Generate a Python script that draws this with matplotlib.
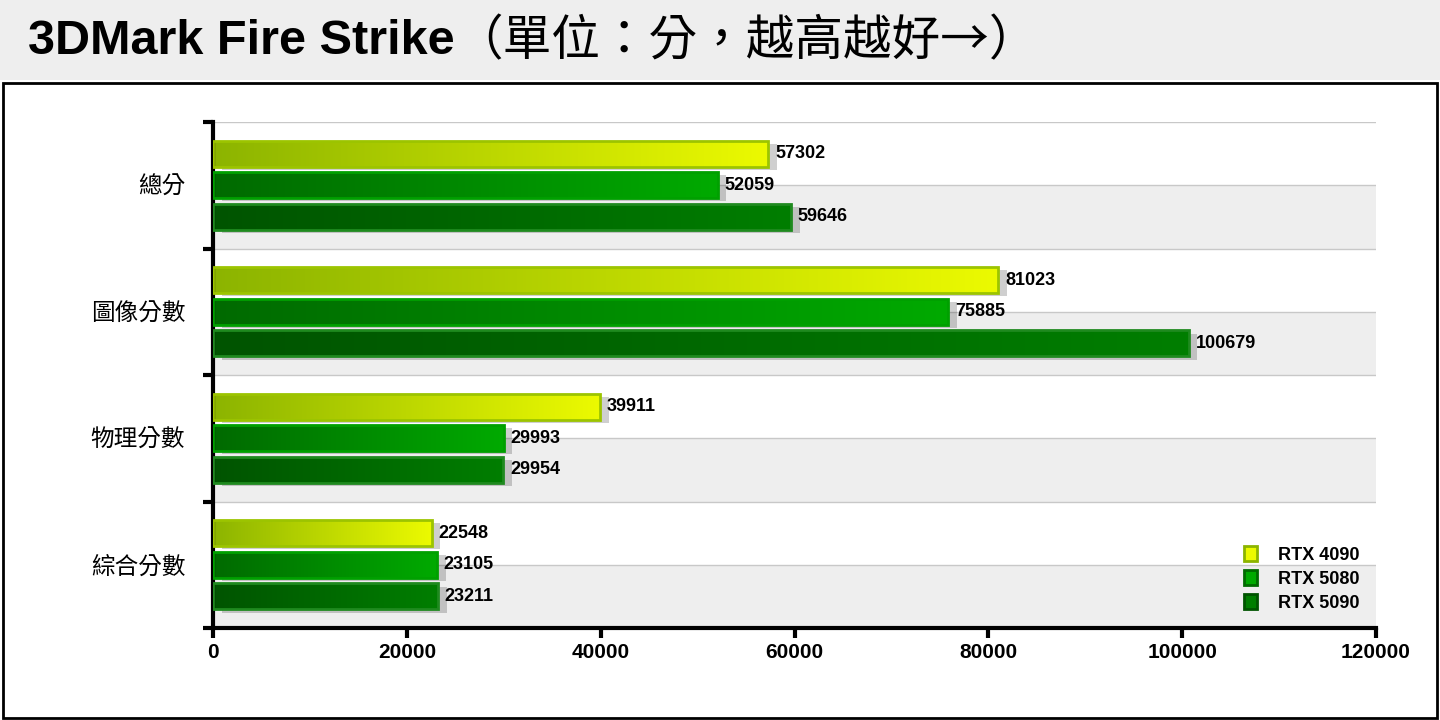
import numpy as np
import matplotlib
matplotlib.use("Agg")
import matplotlib.pyplot as plt
from matplotlib.patches import Rectangle, Patch
from matplotlib.colors import LinearSegmentedColormap

categories = ["總分", "圖像分數", "物理分數", "綜合分數"]
series = ["RTX 4090", "RTX 5080", "RTX 5090"]
rtx4090 = [57302, 81023, 39911, 22548]
rtx5080 = [52059, 75885, 29993, 23105]
rtx5090 = [59646, 100679, 29954, 23211]
xticks = [0, 20000, 40000, 60000, 80000, 100000, 120000]

values = [rtx4090, rtx5080, rtx5090]
grads = [("#8cb400", "#ecfa00"), ("#006a00", "#00aa00"), ("#005400", "#007e00")]
edges = ["#9cc400", "#00a000", "#1f8a1f"]
offsets = [0.25, 0.0, -0.25]
bh = 0.205

fig = plt.figure(figsize=(14.4, 7.2), dpi=100)
fig.patches.append(Rectangle((0, 1-80/720), 1, 80/720, transform=fig.transFigure, facecolor="#eeeeee", edgecolor="none", zorder=0))
fig.patches.append(Rectangle((3/1440, 2/720), 1434/1440, 635/720, transform=fig.transFigure, facecolor="white", edgecolor="black", linewidth=2, zorder=0))

ax = fig.add_axes([213/1440, 1-628/720, 1163/1440, 506/720])
ax.set_zorder(5)
ax.patch.set_visible(False)
n = len(categories)
ypos = [n - 1 - i for i in range(n)]

for y in ypos:
    ax.axhspan(y - 0.5, y, color="#eeeeee", zorder=0, lw=0)
for k in range(2 * n + 1):
    yy = -0.5 + k * 0.5
    ax.axhline(yy, color="#c8c8c8", lw=1, zorder=0.5)

for s, vals in enumerate(values):
    cmap = LinearSegmentedColormap.from_list("g%d" % s, grads[s])
    grad = np.linspace(0, 1, 256).reshape(1, -1)
    for i, v in enumerate(vals):
        yc = ypos[i] + offsets[s]
        ax.add_patch(Rectangle((900, yc - bh/2 - 0.025), v, bh, facecolor="#00000030", edgecolor="none", zorder=1))
        ax.imshow(grad, cmap=cmap, aspect="auto", extent=(0, v, yc - bh/2, yc + bh/2), zorder=2)
        ax.add_patch(Rectangle((0, yc - bh/2), v, bh, facecolor="none", edgecolor=edges[s], lw=2, zorder=3))
        ax.text(v + 700, yc, str(v), va="center", ha="left", fontsize=13, fontweight="bold",
                family="Liberation Sans", zorder=4)
ax.set_xlim(0, 120000)
ax.set_ylim(-0.5, n - 0.5)

ax.set_yticks([y - 0.5 for y in range(n)] + [n - 0.5])
ax.set_yticklabels([])
ax.set_yticks(ypos, minor=True)
ax.set_yticklabels(categories, minor=True, fontsize=17, family="Noto Sans CJK TC")
ax.tick_params(axis="y", which="minor", length=0, pad=20)
ax.tick_params(axis="y", which="major", length=7, width=3, direction="out")
ax.set_xticks(xticks)
ax.set_xticklabels([str(t) for t in xticks], fontsize=15, fontweight="bold", family="Liberation Sans")
ax.tick_params(axis="x", length=7, width=3, direction="out", pad=4)
for sp in ["top", "right"]:
    ax.spines[sp].set_visible(False)
ax.spines["left"].set_linewidth(3)
ax.spines["bottom"].set_linewidth(3)

handles = [Patch(facecolor=grads[s][1], edgecolor=grads[s][0], lw=2) for s in range(3)]
ax.legend(handles, series, loc="lower right", frameon=False, bbox_to_anchor=(1.0, 0.0),
          prop={"family": "Liberation Sans", "weight": "bold", "size": 13},
          handlelength=0.7, handleheight=0.9, handletextpad=1.2, labelspacing=0.35)

t1 = fig.text(28/1440, 1-42/720, "3DMark Fire Strike", fontsize=35, fontweight="bold",
              family="Liberation Sans", va="center", ha="left")
fig.canvas.draw()
bb = t1.get_window_extent(fig.canvas.get_renderer())
fig.text(bb.x1/1440, 1-42/720, "（單位：分，越高越好→）", fontsize=35,
         family="Noto Sans CJK TC", va="center", ha="left")

fig.savefig("out.png", dpi=100)
